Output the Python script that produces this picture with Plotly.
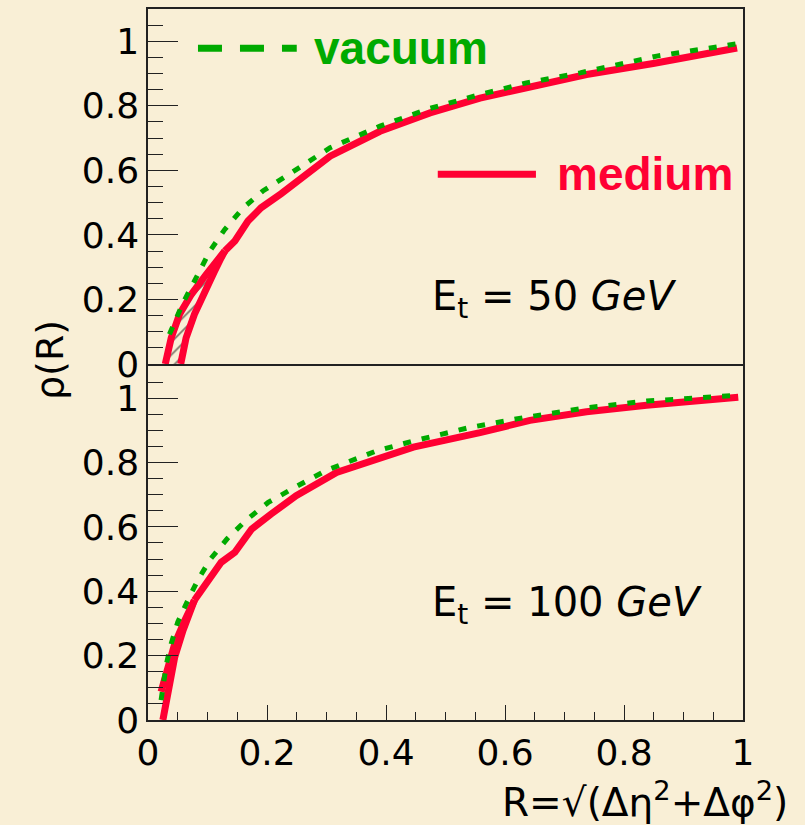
import plotly.graph_objects as go

# ---- jet shape rho(R), Et = 50 GeV (upper panel) ----
R_vac50 = [0.036, 0.045, 0.059, 0.084, 0.104, 0.129, 0.160, 0.193, 0.238, 0.306, 0.390, 0.474, 0.558, 0.636, 0.726, 0.855, 0.990]
rho_vac50 = [0.092, 0.128, 0.190, 0.278, 0.350, 0.417, 0.484, 0.536, 0.589, 0.670, 0.737, 0.792, 0.835, 0.871, 0.902, 0.954, 0.992]

# medium: two edges of the band at small R, then one curve
R_med50_lo = [0.029, 0.039, 0.053, 0.073, 0.098, 0.120, 0.129]
rho_med50_lo = [0.000, 0.081, 0.154, 0.216, 0.278, 0.329, 0.350]
R_med50_hi = [0.055, 0.064, 0.078, 0.095, 0.112, 0.123, 0.129]
rho_med50_hi = [0.000, 0.081, 0.154, 0.226, 0.288, 0.329, 0.350]
R_med50 = [0.129, 0.146, 0.168, 0.190, 0.224, 0.249, 0.306, 0.390, 0.474, 0.558, 0.625, 0.737, 0.849, 0.990]
rho_med50 = [0.350, 0.381, 0.443, 0.484, 0.528, 0.565, 0.644, 0.721, 0.778, 0.824, 0.850, 0.897, 0.931, 0.979]

# ---- Et = 100 GeV (lower panel) ----
R_vac100 = [0.022, 0.031, 0.039, 0.050, 0.067, 0.084, 0.105, 0.133, 0.165, 0.202, 0.246, 0.300, 0.384, 0.446, 0.541, 0.636, 0.737, 0.838, 0.992]
rho_vac100 = [0.062, 0.175, 0.237, 0.304, 0.372, 0.436, 0.500, 0.563, 0.621, 0.676, 0.722, 0.776, 0.836, 0.867, 0.909, 0.941, 0.970, 0.991, 1.009]

R_med100_lo = [0.025, 0.034, 0.045, 0.059, 0.078]
rho_med100_lo = [0.000, 0.103, 0.196, 0.279, 0.372]
R_med100_hi = [0.022, 0.031, 0.045, 0.062, 0.078]
rho_med100_hi = [0.088, 0.155, 0.237, 0.310, 0.372]
R_med100 = [0.078, 0.101, 0.123, 0.146, 0.174, 0.207, 0.249, 0.317, 0.446, 0.558, 0.642, 0.737, 0.838, 0.992]
rho_med100 = [0.372, 0.433, 0.490, 0.521, 0.593, 0.640, 0.697, 0.769, 0.848, 0.893, 0.931, 0.958, 0.978, 1.003]

RED = "#FF0033"
GREEN = "#00AA00"
BG = "#F9EFD6"
FONT = "DejaVu Sans"

fig = go.Figure()


def add_panel(xa, ya, R_vac, rho_vac, R_lo, rho_lo, R_hi, rho_hi, R_med, rho_med):
    # hatched region between the two edges of the medium band
    fig.add_trace(go.Scatter(
        x=R_lo + R_hi[::-1], y=rho_lo + rho_hi[::-1],
        xaxis=xa, yaxis=ya, mode="lines", fill="toself",
        fillcolor="rgba(0,0,0,0)", line=dict(width=0),
        fillpattern=dict(shape="/", fgcolor="black", bgcolor="rgba(0,0,0,0)",
                         size=9, solidity=0.2),
        hoverinfo="skip", showlegend=False))
    for xs, ys in ((R_lo, rho_lo), (R_hi, rho_hi), (R_med, rho_med)):
        fig.add_trace(go.Scatter(x=xs, y=ys, xaxis=xa, yaxis=ya, mode="lines",
                                 line=dict(color=RED, width=7), showlegend=False))
    fig.add_trace(go.Scatter(x=R_vac, y=rho_vac, xaxis=xa, yaxis=ya, mode="lines",
                             line=dict(color=GREEN, width=5, dash="8px,11px"),
                             showlegend=False))


add_panel("x2", "y2", R_vac50, rho_vac50, R_med50_lo, rho_med50_lo,
          R_med50_hi, rho_med50_hi, R_med50, rho_med50)
add_panel("x", "y", R_vac100, rho_vac100, R_med100_lo, rho_med100_lo,
          R_med100_hi, rho_med100_hi, R_med100, rho_med100)

tickfont = dict(family=FONT, size=36, color="black")
frame = dict(showline=True, mirror=True, linecolor="#222", linewidth=1.5,
             showgrid=False, zeroline=False)
yax = dict(range=[0, 1.1], dtick=0.2, tick0=0, ticks="inside", ticklen=30,
           tickwidth=1.3, tickcolor="#222", tickfont=tickfont,
           minor=dict(ticks="inside", ticklen=15, dtick=0.05, tickwidth=1.3,
                      tickcolor="#222", showgrid=False),
           **frame)

fig.update_layout(
    width=805, height=825,
    margin=dict(l=148, r=62, t=7, b=105),
    paper_bgcolor=BG, plot_bgcolor=BG,
    showlegend=False,
    xaxis=dict(domain=[0, 1], range=[0, 1], anchor="y", dtick=0.2, tick0=0,
               ticks="inside", ticklen=15, tickwidth=1.3, tickcolor="#222",
               tickfont=tickfont,
               minor=dict(ticks="inside", ticklen=8, dtick=0.05, tickwidth=1.3,
                          tickcolor="#222", showgrid=False),
               **frame),
    xaxis2=dict(domain=[0, 1], range=[0, 1], anchor="y2", matches="x",
                showticklabels=False, ticks="", **frame),
    yaxis=dict(domain=[0, 0.4979], anchor="x", **yax),
    yaxis2=dict(domain=[0.5007, 1], anchor="x2", **yax),
)

# legend entries drawn inside the upper panel
fig.add_shape(type="line", xref="x2", yref="y2", x0=0.084, x1=0.250, y0=0.978, y1=0.978,
              line=dict(color=GREEN, width=7, dash="24px,18px"))
fig.add_annotation(xref="x2", yref="y2", x=0.276, y=0.978, text="vacuum",
                   showarrow=False, xanchor="left", yanchor="middle",
                   font=dict(family="Liberation Sans", size=46, color=GREEN, weight="bold"))
fig.add_shape(type="line", xref="x2", yref="y2", x0=0.487, x1=0.652, y0=0.588, y1=0.588,
              line=dict(color=RED, width=7))
fig.add_annotation(xref="x2", yref="y2", x=0.684, y=0.588, text="medium",
                   showarrow=False, xanchor="left", yanchor="middle",
                   font=dict(family="Liberation Sans", size=46, color=RED, weight="bold"))

# panel labels
fig.add_annotation(xref="x2", yref="y2", x=0.474, y=0.20,
                   text="E<sub>t</sub> = 50 <i>GeV</i>", showarrow=False,
                   xanchor="left", yanchor="middle",
                   font=dict(family=FONT, size=40, color="black"))
fig.add_annotation(xref="x", yref="y", x=0.474, y=0.356,
                   text="E<sub>t</sub> = 100 <i>GeV</i>", showarrow=False,
                   xanchor="left", yanchor="middle",
                   font=dict(family=FONT, size=40, color="black"))

# axis titles
fig.add_annotation(xref="paper", yref="paper", x=1.079, y=-0.112,
                   text="R=√(Δη<sup>2</sup>+Δφ<sup>2</sup>)", showarrow=False,
                   xanchor="right", yanchor="middle",
                   font=dict(family=FONT, size=39, color="black"))
fig.add_annotation(xref="paper", yref="paper", x=-0.165, y=0.506,
                   text="ρ(R)", textangle=-90, showarrow=False,
                   xanchor="center", yanchor="middle",
                   font=dict(family=FONT, size=38, color="black"))

fig.write_html("out.html")
